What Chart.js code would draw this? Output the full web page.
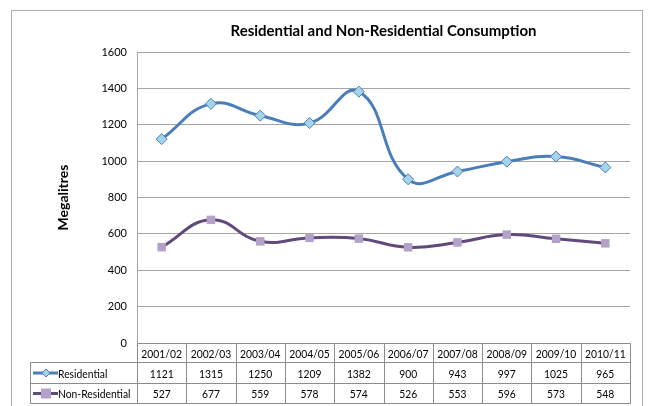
<!DOCTYPE html>
<html>
<head>
<meta charset="utf-8">
<script src="https://cdn.jsdelivr.net/npm/chart.js@4"></script>
<style>
  html, body { margin: 0; padding: 0; background: #fff; }
  #wrap { width: 649px; height: 406px; position: relative; }
</style>
</head>
<body>
<div id="wrap"><canvas id="chart" width="649" height="406"></canvas></div>
<script>
const years = ["2001/02", "2002/03", "2003/04", "2004/05", "2005/06", "2006/07", "2007/08", "2008/09", "2009/10", "2010/11"];
const residential = [1121, 1315, 1250, 1209, 1382, 900, 943, 997, 1025, 965];
const nonResidential = [527, 677, 559, 578, 574, 526, 553, 596, 573, 548];
const seriesNames = ["Residential", "Non-Residential"];

const FONT = "Lato, 'Liberation Sans', sans-serif";
const GRID = "#a6a6a6";
const TABLE_LINE = "#8c8c8c";

// text a bit narrower, closer to the Calibri look of the original
function narrowText(c, t, x, y) {
    c.fillText(t, x, y, c.measureText(t).width * 0.86);
}

// border round the whole chart plus the data table under the plot
const tablePlugin = {
    id: "dataTable",
    beforeDraw(chart) {
        const c = chart.ctx;
        c.save();
        c.strokeStyle = "#b0b0b0";
        c.lineWidth = 1;
        c.strokeRect(11.5, 10.5, 631, 420);
        c.restore();
    },
    afterDraw(chart) {
        const c = chart.ctx;
        const area = chart.chartArea;
        const x = chart.scales.x;
        const colW = (area.right - area.left) / years.length;
        const top = Math.round(area.bottom) + 0.5;
        const r1 = top + 19, r2 = r1 + 21, r3 = r2 + 20;
        const legLeft = 30.5;
        const right = Math.round(area.right) + 0.5;

        c.save();
        c.strokeStyle = TABLE_LINE;
        c.lineWidth = 1;
        c.beginPath();
        c.moveTo(Math.round(area.left) + 0.5, top); c.lineTo(right, top);
        c.moveTo(legLeft, r1); c.lineTo(right, r1);
        c.moveTo(legLeft, r2); c.lineTo(right, r2);
        c.moveTo(legLeft, r3); c.lineTo(right, r3);
        c.moveTo(legLeft, r1); c.lineTo(legLeft, r3);
        for (let i = 0; i <= years.length; i++) {
            const xx = Math.round(area.left + i * colW) + 0.5;
            c.moveTo(xx, top); c.lineTo(xx, r3);
        }
        c.stroke();

        c.fillStyle = "#000";
        c.font = "12px " + FONT;
        c.textAlign = "center";
        c.textBaseline = "middle";
        years.forEach((y, i) => {
            const cx = x.getPixelForValue(i);
            narrowText(c, y, cx, (top + r1) / 2 + 1);
            narrowText(c, String(residential[i]), cx, (r1 + r2) / 2 + 1);
            narrowText(c, String(nonResidential[i]), cx, (r2 + r3) / 2 + 1);
        });

        // legend keys in the first column
        const rows = [(r1 + r2) / 2, (r2 + r3) / 2];
        chart.data.datasets.forEach((ds, k) => {
            const cy = rows[k];
            c.strokeStyle = ds.borderColor;
            c.lineWidth = 3;
            c.beginPath();
            c.moveTo(33, cy); c.lineTo(58, cy);
            c.stroke();
            c.fillStyle = ds.pointBackgroundColor;
            if (ds.pointStyle === "rectRot") {
                c.strokeStyle = ds.pointBorderColor;
                c.lineWidth = 1;
                c.beginPath();
                c.moveTo(46, cy - 4); c.lineTo(50, cy); c.lineTo(46, cy + 4); c.lineTo(42, cy);
                c.closePath();
                c.fill(); c.stroke();
            } else {
                c.fillRect(41, cy - 5, 10, 10);
            }
            c.fillStyle = "#000";
            c.textAlign = "left";
            narrowText(c, seriesNames[k], 58, cy + 1);
        });
        c.restore();
    }
};

new Chart(document.getElementById("chart").getContext("2d"), {
    type: "line",
    data: {
        labels: years,
        datasets: [{
            label: seriesNames[0],
            data: residential,
            borderColor: "#4a7ebb",
            borderWidth: 3,
            pointStyle: "rectRot",
            pointRadius: 5.5,
            pointBackgroundColor: "#a5d3ea",
            pointBorderColor: "#4a7ebb",
            pointBorderWidth: 1,
            tension: 0.45,
            fill: false
        }, {
            label: seriesNames[1],
            data: nonResidential,
            borderColor: "#604a7b",
            borderWidth: 3,
            pointStyle: "rect",
            pointRadius: 6,
            pointBackgroundColor: "#b3a2c7",
            pointBorderColor: "#b3a2c7",
            pointBorderWidth: 0,
            tension: 0.45,
            fill: false
        }]
    },
    options: {
        responsive: false,
        animation: false,
        devicePixelRatio: 1,
        layout: { padding: { left: 0, right: 19, top: 22, bottom: 63 } },
        plugins: {
            legend: { display: false },
            tooltip: { enabled: false },
            title: {
                display: true,
                fullSize: false,
                text: "Residential and Non-Residential Consumption",
                color: "#000",
                font: { family: FONT, size: 15, weight: "bold" },
                padding: { top: 0, bottom: 12 }
            }
        },
        scales: {
            x: {
                offset: true,
                grid: { display: false, drawTicks: false },
                border: { display: false },
                ticks: { display: false }
            },
            y: {
                min: 0,
                max: 1600,
                afterFit: s => { s.width = 137; },
                ticks: {
                    stepSize: 200,
                    color: "#000",
                    padding: 10,
                    callback: v => String(v),
                    font: { family: FONT, size: 11 }
                },
                grid: { color: GRID, drawTicks: false },
                border: { color: GRID },
                title: {
                    display: true,
                    text: "Megalitres",
                    color: "#000",
                    padding: { top: 55, bottom: 0 },
                    font: { family: FONT, size: 14, weight: "bold" }
                }
            }
        }
    },
    plugins: [tablePlugin]
});
</script>
</body>
</html>
